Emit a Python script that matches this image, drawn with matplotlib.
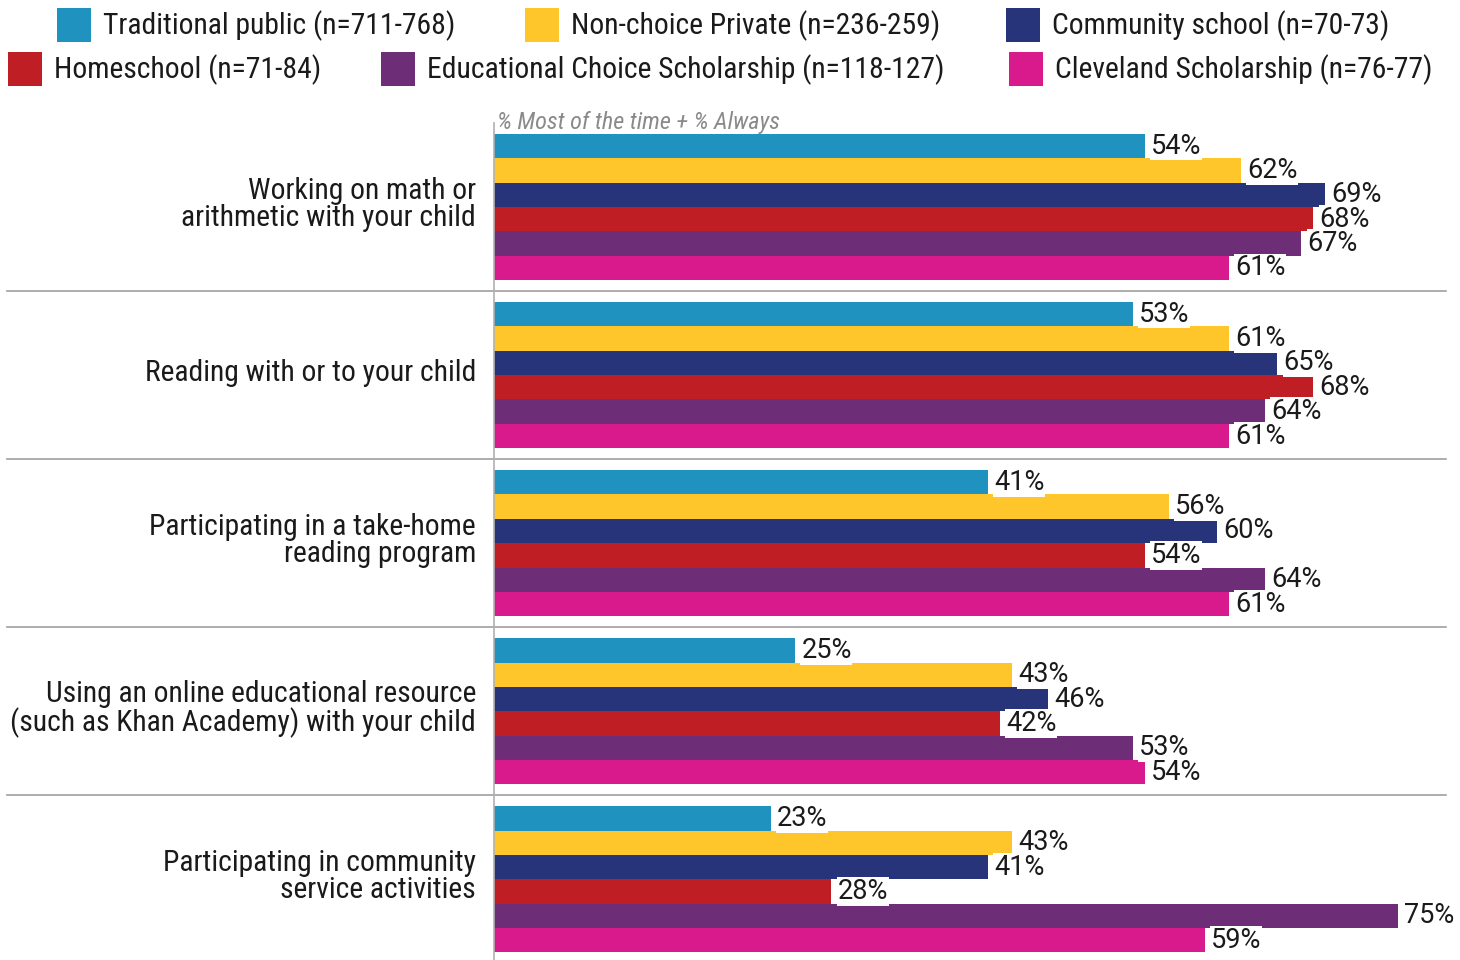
import matplotlib
matplotlib.use("Agg")
import matplotlib.pyplot as plt
import numpy as np
from matplotlib.patches import Rectangle

plt.rcParams["font.family"] = ["Roboto Condensed", "Liberation Sans Narrow", "DejaVu Sans"]
VALUE_FONT = ["Roboto", "DejaVu Sans"]

activities = [
    "Working on math or\narithmetic with your child",
    "Reading with or to your child",
    "Participating in a take-home\nreading program",
    "Using an online educational resource\n(such as Khan Academy) with your child",
    "Participating in community\nservice activities",
]
groups = [
    "Traditional public (n=711-768)",
    "Non-choice Private (n=236-259)",
    "Community school (n=70-73)",
    "Homeschool (n=71-84)",
    "Educational Choice Scholarship (n=118-127)",
    "Cleveland Scholarship (n=76-77)",
]
colors = ["#2092BF", "#FEC62A", "#28347A", "#BE1E24", "#6D2E77", "#D91A8C"]

# percent "most of the time" + "always", one list per school type
traditional = [54, 53, 41, 25, 23]
nonchoice = [62, 61, 56, 43, 43]
community = [69, 65, 60, 46, 41]
homeschool = [68, 68, 54, 42, 28]
edchoice = [67, 64, 64, 53, 75]
cleveland = [61, 61, 61, 54, 59]
series = [traditional, nonchoice, community, homeschool, edchoice, cleveland]

W, H = 1460, 960
fig = plt.figure(figsize=(W / 100, H / 100), dpi=100)

ax_left, ax_right, ax_top = 494, 1446, 123
ax = fig.add_axes([ax_left / W, 0, (ax_right - ax_left) / W, 1 - ax_top / H])

bar_h = 0.145
y_base = np.arange(len(activities))
for k, (vals, col) in enumerate(zip(series, colors)):
    ys = y_base - 0.5 + 0.065 + bar_h * (k + 0.5)
    ax.barh(ys, vals, height=bar_h, color=col, linewidth=0, zorder=2)
    for y, v in zip(ys, vals):
        ax.text(v + 0.5, y, f"{v}%", va="center", ha="left", fontsize=19.5,
                family=VALUE_FONT, color="#1a1a1a", zorder=3,
                bbox=dict(facecolor="white", edgecolor="none", pad=0.6))

ax.set_xlim(0, 79)
ax.set_ylim(len(activities) - 0.52, -0.5)
ax.set_xticks([])
ax.set_yticks([])
for side in ["top", "right", "bottom"]:
    ax.spines[side].set_visible(False)
ax.spines["left"].set_color("#b0b0b0")
ax.spines["left"].set_linewidth(1.2)

# row separators reaching out under the category labels
x0 = (7 - ax_left) / (ax_right - ax_left)
trans = ax.get_yaxis_transform()
for i in range(len(activities) - 1):
    ax.plot([x0, 1], [i + 0.5, i + 0.5], transform=trans, color="#a0a0a0",
            linewidth=1.2, clip_on=False, zorder=1)

for i, lab in enumerate(activities):
    ax.text(-18 / 12.05, i - 0.015, lab, ha="right", va="center", fontsize=21.3,
            color="#1a1a1a", linespacing=0.96)

ax.text(0.003, 1.0, "% Most of the time + % Always", transform=ax.transAxes,
        ha="left", va="center", fontsize=17.5, style="italic", color="#8a8a8a")

# legend swatches placed in pixel positions
legend_pos = [(57, 8), (525, 8), (1006, 8), (8, 52), (381, 52), (1009, 52)]
for (px, py), lab, col in zip(legend_pos, groups, colors):
    fig.add_artist(Rectangle((px / W, 1 - (py + 34) / H), 34 / W, 34 / H,
                             transform=fig.transFigure, color=col, linewidth=0))
    fig.text((px + 46) / W, 1 - (py + 18) / H, lab, ha="left", va="center",
             fontsize=21.3, color="#1a1a1a")

fig.savefig("out.png", dpi=100)
